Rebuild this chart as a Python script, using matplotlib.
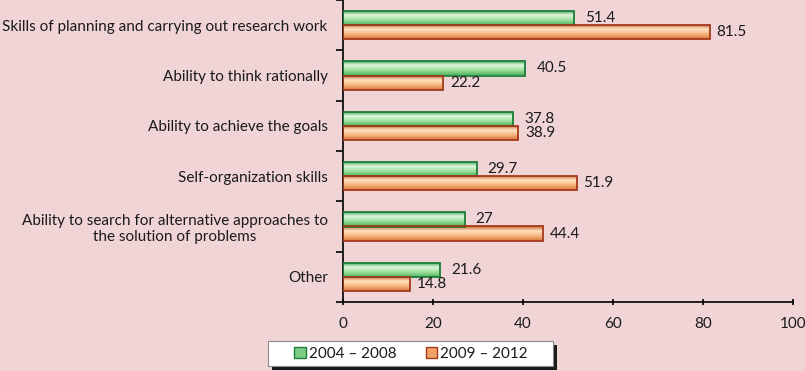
import matplotlib

matplotlib.use("Agg")
import matplotlib.pyplot as plt
import numpy as np
from matplotlib.colors import LinearSegmentedColormap
from matplotlib.patches import Patch, Rectangle

categories = [
    "Skills of planning and carrying out research work",
    "Ability to think rationally",
    "Ability to achieve the goals",
    "Self-organization skills",
    "Ability to search for alternative approaches to\nthe solution of problems",
    "Other",
]
period_a = [51.4, 40.5, 37.8, 29.7, 27, 21.6]
period_b = [81.5, 22.2, 38.9, 51.9, 44.4, 14.8]
series_names = ["2004 \u2013 2008", "2009 \u2013 2012"]

BG = "#F0D4D6"
GREEN_EDGE = "#1E7E3C"
ORANGE_EDGE = "#A33A1C"
green_cmap = LinearSegmentedColormap.from_list(
    "g", ["#2E9A48", "#DFF7DC", "#9FE09F", "#4FB55E"])
orange_cmap = LinearSegmentedColormap.from_list(
    "o", ["#C9642E", "#FFE2C2", "#F8B47E", "#D9773E"])

plt.rcParams["font.family"] = ["Lato", "DejaVu Sans"]

W, H = 805, 371
fig = plt.figure(figsize=(W / 100, H / 100), dpi=100, facecolor=BG)
ax = fig.add_axes([343 / W, 1 - 302 / H, 450 / W, 302 / H])
ax.set_facecolor(BG)

y = np.arange(len(categories))
h = 0.28


def gradient_bars(bars, cmap, edge):
    grad = np.linspace(0, 1, 64).reshape(-1, 1)
    for b in bars:
        x0, y0 = b.get_x(), b.get_y()
        w, hh = b.get_width(), b.get_height()
        im = ax.imshow(grad, cmap=cmap, aspect="auto",
                       extent=(x0, x0 + w, y0 + hh, y0), zorder=2)
        im.set_clip_path(b)
        b.set_facecolor("none")
        b.set_edgecolor(edge)
        b.set_linewidth(1.3)
        b.set_zorder(3)


bars_a = ax.barh(y - h / 2, period_a, height=h)
bars_b = ax.barh(y + h / 2, period_b, height=h)
gradient_bars(bars_a, green_cmap, GREEN_EDGE)
gradient_bars(bars_b, orange_cmap, ORANGE_EDGE)

for b, v in zip(bars_a, period_a):
    ax.annotate(f"{v:g}", (v, b.get_y() + b.get_height() / 2),
                xytext=(8, 0), textcoords="offset points",
                va="center", ha="left", fontsize=11, color="#1a1a1a")
for b, v in zip(bars_b, period_b):
    ax.annotate(f"{v:g}", (v, b.get_y() + b.get_height() / 2),
                xytext=(5, 0), textcoords="offset points",
                va="center", ha="left", fontsize=11, color="#1a1a1a")

ax.set_xlim(0, 100)
ax.set_ylim(len(categories) - 0.5, -0.5)
ax.set_xticks(np.arange(0, 101, 20))
ax.set_yticks(y)
ax.set_yticklabels(categories, fontsize=11, color="#1a1a1a",
                   multialignment="center")
ax.set_yticks(np.arange(-0.5, len(categories), 1), minor=True)
ax.tick_params(axis="y", which="major", length=0, pad=11)
ax.tick_params(axis="y", which="minor", length=5, direction="out", width=1.2)
ax.tick_params(axis="x", length=5, direction="inout", width=1.2,
               labelsize=11, labelcolor="#1a1a1a", pad=8)
for s in ["top", "right"]:
    ax.spines[s].set_visible(False)
for s in ["left", "bottom"]:
    ax.spines[s].set_linewidth(1.2)

# legend box with a dark drop shadow, as in the reference
fig.patches.append(Rectangle((272 / W, 1 - 370 / H), 285 / W, 25 / H,
                             transform=fig.transFigure, facecolor="#1a1a1a",
                             edgecolor="none", zorder=1))
fig.patches.append(Rectangle((268 / W, 1 - 366 / H), 285 / W, 25 / H,
                             transform=fig.transFigure, facecolor="white",
                             edgecolor="#8a8a8a", linewidth=0.8, zorder=2))

handles = [
    Patch(facecolor="#7CCB84", edgecolor=GREEN_EDGE, label=series_names[0]),
    Patch(facecolor="#F2A26A", edgecolor=ORANGE_EDGE, label=series_names[1]),
]
leg = fig.legend(handles=handles, loc="center", ncol=2,
                 bbox_to_anchor=(411 / W, 1 - 354 / H),
                 frameon=False, fontsize=11,
                 handlelength=0.75, handleheight=0.75,
                 handletextpad=0.2, columnspacing=1.9, borderpad=0,
                 borderaxespad=0)
leg.set_zorder(3)
for t in leg.get_texts():
    t.set_color("#1a1a1a")

fig.savefig("out.png", dpi=100, facecolor=BG)
